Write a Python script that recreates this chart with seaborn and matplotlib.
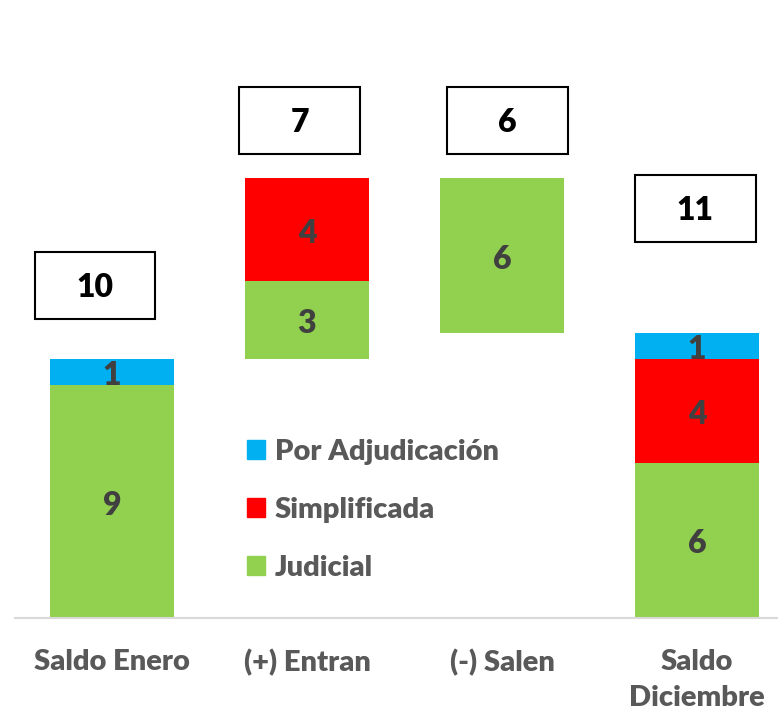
import numpy as np
import pandas as pd
import seaborn as sns
import matplotlib
matplotlib.use("Agg")
import matplotlib.pyplot as plt
from matplotlib.patches import Rectangle, Patch

categories = ["Saldo Enero", "(+) Entran", "(-) Salen", "Saldo\nDiciembre"]
base = [0, 10, 11, 0]
judicial = [9, 3, 6, 6]
simplificada = [0, 4, 0, 4]
adjudicacion = [1, 0, 0, 1]
totals = [10, 7, 6, 11]

# where the total boxes sit (data units) - layout only
box_y = [12.85, 19.2, 19.2, 15.8]
box_dx = [-0.087, -0.036, 0.026, -0.01]

df = pd.DataFrame({
    "cat": categories,
    "base": base,
    "Judicial": judicial,
    "Simplificada": simplificada,
    "Por Adjudicación": adjudicacion,
})

sns.set_style("white")
plt.rcParams["font.family"] = ["Lato", "DejaVu Sans"]
W = "heavy"

colors = {"Judicial": "#92D050", "Simplificada": "#FF0000", "Por Adjudicación": "#00B0F0"}

fig = plt.figure(figsize=(7.78, 7.11), dpi=100)
ax = fig.add_axes([15 / 778, 93 / 711, 763 / 778, 618 / 711])

bottom = np.array(base, dtype=float)
for layer in ["Judicial", "Simplificada", "Por Adjudicación"]:
    vals = df[layer].to_numpy(dtype=float)
    sns.barplot(data=df, x="cat", y=layer, bottom=bottom, color=colors[layer],
                saturation=1, width=0.64, linewidth=0, ax=ax, errorbar=None)
    for i, v in enumerate(vals):
        if v > 0:
            # small nudge down so digits sit like the original
            ax.text(i, bottom[i] + v / 2 - 0.14, f"{int(v)}", ha="center", va="center",
                    fontsize=23, fontweight=W, color="#404040")
    bottom = bottom + vals

# total boxes
bw, bh = 0.62, 2.59
for i, t in enumerate(totals):
    cx = i + box_dx[i]
    ax.add_patch(Rectangle((cx - bw / 2, box_y[i] - bh / 2), bw, bh, fill=False,
                           edgecolor="black", linewidth=1.5, zorder=3, clip_on=False))
    ax.text(cx, box_y[i] - 0.08, str(t), ha="center", va="center", fontsize=23,
            fontweight=W, color="black")

ax.set_xlim(-0.497, 3.415)
ax.set_ylim(0, 23.86)
ax.set_xlabel("")
ax.set_ylabel("")
ax.set_yticks([])
ax.tick_params(axis="x", length=0, pad=22, labelsize=21, labelcolor="#595959")
for lab in ax.get_xticklabels():
    lab.set_fontweight(W)
    lab.set_linespacing(1.5)
for s in ["top", "right", "left"]:
    ax.spines[s].set_visible(False)
ax.spines["bottom"].set_color("#D9D9D9")
ax.spines["bottom"].set_linewidth(1.5)

handles = [Patch(color=colors[k], label=k) for k in ["Por Adjudicación", "Simplificada", "Judicial"]]
leg = ax.legend(handles=handles, loc="center left", bbox_to_anchor=(0.27, 0.175),
                frameon=False, handlelength=0.62, handleheight=0.62, handletextpad=0.32,
                labelspacing=1.1, prop={"size": 21, "weight": W})
for t in leg.get_texts():
    t.set_color("#595959")

fig.savefig("out.png", dpi=100)
